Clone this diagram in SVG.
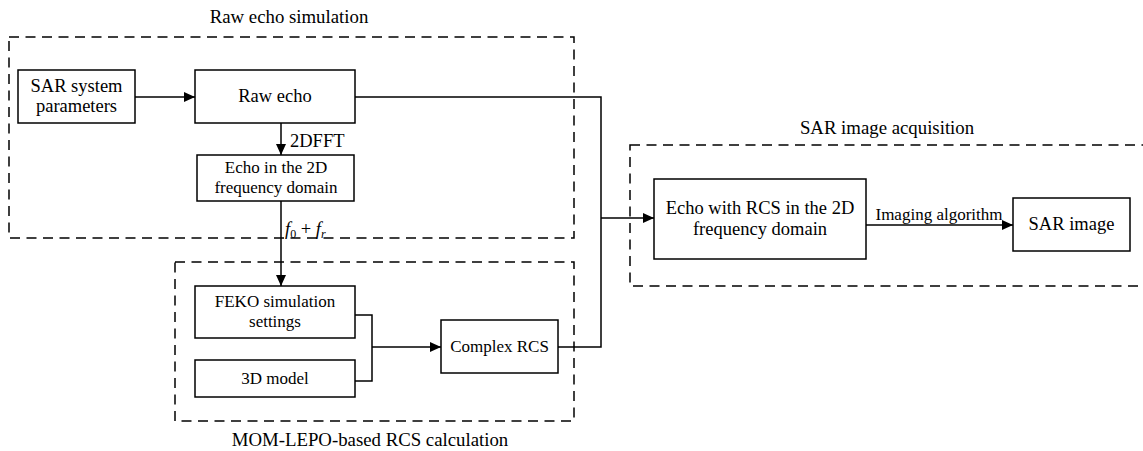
<svg xmlns="http://www.w3.org/2000/svg" width="1143" height="451" viewBox="0 0 1143 451">
<defs>
<marker id="ah" viewBox="0 0 11 10" refX="11" refY="5" markerWidth="11" markerHeight="10" markerUnits="userSpaceOnUse" orient="auto">
<path d="M0,0 L11,5 L0,10 z" fill="#000"/>
</marker>
</defs>
<style>
text{font-family:"Liberation Serif","Times New Roman",serif;fill:#000;text-anchor:middle}
.g{font-size:18.8px}
.n{font-size:18.5px}
.m{font-size:17px}
.box{fill:#fff;stroke:#000;stroke-width:1.5}
.dash{fill:none;stroke:#000;stroke-width:1.5;stroke-dasharray:10,6.5}
.ln{fill:none;stroke:#000;stroke-width:1.5}
</style>
<rect width="1143" height="451" fill="#fff"/>
<g id="group-raw">
<rect class="dash" x="9" y="37" width="565" height="201"/>
<text class="g" x="289" y="23">Raw echo simulation</text>
</g>
<g id="group-rcs">
<rect class="dash" x="175" y="262" width="399" height="159"/>
<text class="g" x="370" y="446">MOM-LEPO-based RCS calculation</text>
</g>
<g id="group-img">
<rect class="dash" x="630" y="145" width="530" height="141"/>
<text class="g" x="887" y="134">SAR image acquisition</text>
</g>
<g id="connectors">
<path class="ln" d="M135,97 H195" marker-end="url(#ah)"/>
<path class="ln" d="M281,123 V155" marker-end="url(#ah)"/>
<path class="ln" d="M281,201 V286" marker-end="url(#ah)"/>
<path class="ln" d="M355,97 H601 V347 H558"/>
<path class="ln" d="M601,218 H654" marker-end="url(#ah)"/>
<path class="ln" d="M355,315 H372 V381 H355"/>
<path class="ln" d="M372,347 H441" marker-end="url(#ah)"/>
<path class="ln" d="M866,225 H1013" marker-end="url(#ah)"/>
<text class="n" x="290" y="147" style="text-anchor:start">2DFFT</text>
<text class="n" x="285" y="235" style="text-anchor:start"><tspan font-style="italic">f</tspan><tspan font-size="12" dy="3">0</tspan><tspan dy="-3"> + </tspan><tspan font-style="italic">f</tspan><tspan font-style="italic" font-size="12" dy="3">r</tspan></text>
<text class="m" x="939" y="220">Imaging algorithm</text>
</g>
<g id="n-sar">
<rect class="box" x="18" y="70" width="117" height="53"/>
<text class="n" x="76.5" y="92">SAR system</text>
<text class="n" x="76.5" y="112">parameters</text>
</g>
<g id="n-raw">
<rect class="box" x="195" y="70" width="160" height="53"/>
<text class="n" x="275" y="102">Raw echo</text>
</g>
<g id="n-echo2d">
<rect class="box" x="197" y="155" width="157" height="46"/>
<text class="m" x="276" y="173">Echo in the 2D</text>
<text class="m" x="276" y="193">frequency domain</text>
</g>
<g id="n-feko">
<rect class="box" x="195" y="286" width="160" height="52"/>
<text class="m" x="275" y="307">FEKO simulation</text>
<text class="m" x="275" y="327">settings</text>
</g>
<g id="n-3d">
<rect class="box" x="195" y="360" width="160" height="37"/>
<text class="m" x="275" y="384">3D model</text>
</g>
<g id="n-crcs">
<rect class="box" x="441" y="320" width="117" height="53"/>
<text class="m" x="499.5" y="352">Complex RCS</text>
</g>
<g id="n-echorcs">
<rect class="box" x="654" y="179" width="212" height="80"/>
<text class="n" x="760" y="214">Echo with RCS in the 2D</text>
<text class="n" x="760" y="235">frequency domain</text>
</g>
<g id="n-sarimg">
<rect class="box" x="1013" y="198" width="117" height="53"/>
<text class="n" x="1071.5" y="230">SAR image</text>
</g>
</svg>
